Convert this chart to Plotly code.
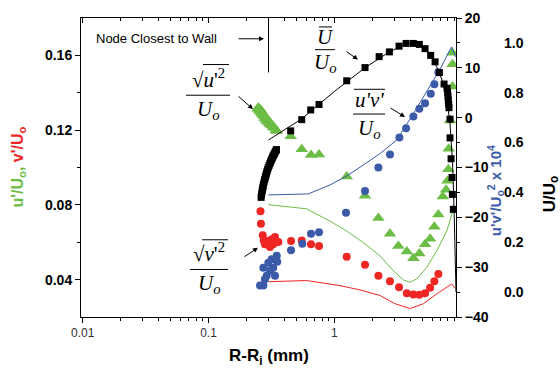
import plotly.graph_objects as go

# ---------------- data ----------------
# Mean velocity U/Uo (squares, right outer axis)
u_sq_x = [0.262, 0.264, 0.266, 0.268, 0.270, 0.272, 0.274, 0.277, 0.280, 0.283, 0.286, 0.289,
          0.292, 0.295, 0.299, 0.303, 0.307, 0.311, 0.315, 0.319, 0.323, 0.327, 0.331, 0.335,
          0.339, 0.343, 0.347,
          0.450, 0.551, 0.649, 0.756, 1.255, 1.754, 2.27, 2.74, 3.27, 3.72, 4.25, 4.74, 5.26,
          5.83, 6.32, 6.84, 7.45, 7.87, 7.95, 8.00, 8.05, 8.10, 8.15, 8.31, 8.31, 8.47, 8.62,
          8.67, 8.83]
u_sq_y = [0.380, 0.390, 0.400, 0.410, 0.418, 0.426, 0.434, 0.443, 0.452, 0.461, 0.469, 0.477,
          0.485, 0.492, 0.500, 0.508, 0.515, 0.522, 0.529, 0.535, 0.541, 0.547, 0.552, 0.557,
          0.562, 0.567, 0.572,
          0.647, 0.692, 0.731, 0.753, 0.848, 0.901, 0.945, 0.964, 0.987, 0.998, 0.998, 0.994, 0.977,
          0.950, 0.924, 0.881, 0.835, 0.818, 0.802, 0.786, 0.770, 0.755, 0.740, 0.694, 0.619, 0.535, 0.460,
          0.392, 0.332]
# CFD U/Uo line
u_cfd_x = [0.299, 0.55, 1.0, 1.75, 2.7, 3.5, 4.2, 5.0, 5.8, 6.5, 7.2, 7.8, 8.3, 8.7, 8.95, 9.15, 9.27]
u_cfd_y = [0.61, 0.695, 0.805, 0.90, 0.962, 0.99, 1.0, 0.985, 0.95, 0.905, 0.85, 0.78, 0.68, 0.52, 0.33, 0.15, 0.0]

# u'/Uo (triangles, left axis)
up_x = [0.245, 0.250, 0.253, 0.256, 0.260, 0.263, 0.266, 0.270, 0.273, 0.277, 0.280, 0.284,
        0.288, 0.292, 0.296, 0.300, 0.305, 0.310, 0.315, 0.320, 0.327, 0.335, 0.343, 0.350,
        0.450, 0.551, 0.653, 0.756, 1.255, 1.754, 2.24, 2.77, 3.23, 3.77, 4.25, 4.74, 5.26,
        5.77, 6.24, 6.71, 7.28, 7.73, 7.93, 8.06, 8.11, 8.30, 8.70, 8.70, 8.67]
up_y = [0.1315, 0.1320, 0.1305, 0.1312, 0.1295, 0.1305, 0.1285, 0.1292, 0.1275, 0.1280, 0.1262, 0.1270,
        0.1252, 0.1258, 0.1243, 0.1247, 0.1233, 0.1238, 0.1225, 0.1228, 0.1215, 0.1212, 0.1200, 0.1195,
        0.1167, 0.1098, 0.1067, 0.1070, 0.0952, 0.0849, 0.0730, 0.0646, 0.0580, 0.0550, 0.0515, 0.0540, 0.0589,
        0.0619, 0.0683, 0.0748, 0.0845, 0.0881, 0.0929, 0.0990, 0.1100, 0.1252, 0.1434, 0.1552, 0.1614]
# CFD u'/Uo line
up_cfd_x = [0.299, 0.603, 0.924, 1.255, 1.70, 2.31, 2.94, 3.54, 4.00, 4.52, 5.43, 6.52, 7.83, 8.58, 8.87]
up_cfd_y = [0.0801, 0.0779, 0.0713, 0.0660, 0.0598, 0.0527, 0.0448, 0.0398, 0.0386, 0.0404, 0.0465, 0.0554, 0.0660, 0.0748, 0.0803]

# v'/Uo (circles, left axis)
vp_x = [0.259, 0.261, 0.270, 0.290, 0.318, 0.344, 0.281, 0.327, 0.359, 0.308, 0.338, 0.275, 0.300,
        0.453, 0.551, 0.653, 0.756, 1.255, 1.754, 2.24, 2.77, 3.27, 3.77, 4.25, 4.74, 5.26,
        5.77, 6.24, 6.71]
vp_y = [0.0766, 0.0699, 0.0637, 0.0607, 0.0616, 0.0607, 0.0589, 0.0589, 0.0601, 0.0575, 0.0628, 0.0610, 0.0595,
        0.0607, 0.0610, 0.0589, 0.0580, 0.0522, 0.0480, 0.0421, 0.0391, 0.0359, 0.0327, 0.0320, 0.0319, 0.0327,
        0.0356, 0.0391, 0.0430]
# CFD v'/Uo line
vp_cfd_x = [0.299, 0.603, 1.11, 1.60, 2.31, 3.04, 4.00, 5.10, 6.52, 8.58, 9.19]
vp_cfd_y = [0.0389, 0.0395, 0.0368, 0.0345, 0.0315, 0.0271, 0.0245, 0.0271, 0.0324, 0.0377, 0.0352]

# u'v'/Uo^2 x 10^4 (circles, right inner axis)
uv_x = [0.349, 0.318, 0.299, 0.352, 0.327, 0.273, 0.308, 0.290, 0.338, 0.281, 0.273, 0.257,
        0.453, 0.557, 0.653, 0.756,
        1.239, 1.754, 2.24, 2.77, 3.29, 3.72, 4.25, 4.74, 5.26, 5.84, 6.24, 6.71]
uv_y = [-27.7, -28.4, -29.1, -28.9, -30.1, -30.1, -30.7, -31.7, -31.7, -32.4, -33.7, -33.7,
        -26.6, -25.3, -23.3, -23.0,
        -19.1, -14.7, -10.0, -7.4, -4.0, -2.1, 0.25, 1.8, 2.9, 4.8, 6.7, 9.1]
# CFD u'v' line
uv_cfd_x = [0.299, 0.621, 0.924, 1.255, 1.70, 2.31, 3.13, 4.25, 5.77, 6.92, 8.06, 8.55, 9.19]
uv_cfd_y = [-15.5, -15.3, -13.5, -11.7, -9.5, -7.2, -4.5, 0.8, 6.4, 9.7, 13.0, 14.2, 12.2]

# ticks
x_major = [0.01, 0.1, 1]
x_major_text = ["0.01", "0.1", "1"]
x_minor = [0.02, 0.03, 0.04, 0.05, 0.06, 0.07, 0.08, 0.09,
           0.2, 0.3, 0.4, 0.5, 0.6, 0.7, 0.8, 0.9,
           2, 3, 4, 5, 6, 7, 8, 9]
y1_major = [0.04, 0.08, 0.12, 0.16]
y1_text = ["0.04", "0.08", "0.12", "0.16"]
y1_minor = [0.06, 0.10, 0.14]
y2_major = [-40, -30, -20, -10, 0, 10, 20]
y2_minor = [-35, -25, -15, -5, 5, 15]
y3_major = [0.0, 0.2, 0.4, 0.6, 0.8, 1.0]
y3_text = ["0.0", "0.2", "0.4", "0.6", "0.8", "1.0"]

# ---------------- layout helpers ----------------
W, H = 560, 369
ML, MR, MT, MB = 81, 10, 15, 52
PW = W - ML - MR
PH = H - MT - MB
def px(x):
    return (x - ML) / PW
def py(y):
    return (H - MB - y) / PH

GREEN = "#6cbd45"
RED = "#ee2724"
BLUE = "#3b5ba9"
SANS = "Liberation Sans, Arial, sans-serif"
SERIF = "Liberation Serif, Times New Roman, serif"

fig = go.Figure()
fig.add_trace(go.Scatter(x=up_cfd_x, y=up_cfd_y, mode="lines", line=dict(color=GREEN, width=1), yaxis="y"))
fig.add_trace(go.Scatter(x=vp_cfd_x, y=vp_cfd_y, mode="lines", line=dict(color=RED, width=1), yaxis="y"))
fig.add_trace(go.Scatter(x=uv_cfd_x, y=uv_cfd_y, mode="lines", line=dict(color=BLUE, width=1), yaxis="y2"))
fig.add_trace(go.Scatter(x=vp_x, y=vp_y, mode="markers",
                         marker=dict(symbol="circle", size=8, color=RED, line=dict(width=0)), yaxis="y"))
fig.add_trace(go.Scatter(x=uv_x, y=uv_y, mode="markers",
                         marker=dict(symbol="circle", size=8, color=BLUE, line=dict(width=0)), yaxis="y2"))
fig.add_trace(go.Scatter(x=up_x, y=up_y, mode="markers",
                         marker=dict(symbol="triangle-up", size=11, color=GREEN, line=dict(width=0)), yaxis="y"))
fig.add_trace(go.Scatter(x=u_cfd_x, y=u_cfd_y, mode="lines", line=dict(color="black", width=1), yaxis="y3"))
fig.add_trace(go.Scatter(x=u_sq_x, y=u_sq_y, mode="markers",
                         marker=dict(symbol="square", size=7, color="black", line=dict(width=0)), yaxis="y3"))
fig.add_trace(go.Scatter(x=[], y=[], xaxis="x2", yaxis="y"))

XDOM = px(456)
xr = [-2.013, 0.967]
fig.update_layout(
    width=W, height=H, margin=dict(l=ML, r=MR, t=MT, b=MB),
    paper_bgcolor="white", plot_bgcolor="white", showlegend=False,
    xaxis=dict(type="log", range=xr, domain=[0, XDOM], showline=True, linecolor="black", linewidth=1,
               mirror=True, ticks="outside", ticklen=5, tickcolor="black",
               tickvals=x_major, ticktext=x_major_text, showgrid=False, zeroline=False,
               minor=dict(tickvals=x_minor, ticks="outside", ticklen=3, tickcolor="black", showgrid=False),
               tickfont=dict(family=SANS, size=12, color="#333")),
    xaxis2=dict(type="log", range=xr, domain=[0, XDOM], overlaying="x", side="top", anchor="y",
                showline=False, ticks="inside", ticklen=5, tickcolor="black", tickvals=x_major,
                showticklabels=False, showgrid=False, zeroline=False,
                minor=dict(tickvals=x_minor, ticks="inside", ticklen=3, tickcolor="black", showgrid=False)),
    yaxis=dict(range=[0.02, 0.18], showline=True, linecolor="black", linewidth=1, ticks="outside",
               ticklen=5, tickcolor="black", tickvals=y1_major, ticktext=y1_text, showgrid=False,
               zeroline=False,
               minor=dict(tickvals=y1_minor, ticks="outside", ticklen=3, tickcolor="black", showgrid=False),
               tickfont=dict(family=SANS, size=14, color="black", weight="bold")),
    yaxis2=dict(range=[-40, 20], overlaying="y", side="right", anchor="x", showline=True, linecolor="black",
                linewidth=1, ticks="outside", ticklen=5, tickcolor="black", tickvals=y2_major,
                showgrid=False, zeroline=False,
                minor=dict(tickvals=y2_minor, ticks="outside", ticklen=3, tickcolor="black", showgrid=False),
                tickfont=dict(family=SANS, size=14, color="black", weight="bold")),
    yaxis3=dict(range=[-0.1, 1.1], overlaying="y", side="right", anchor="free", position=px(503),
                showline=False, ticks="", tickvals=y3_major, ticktext=y3_text, showgrid=False, zeroline=False,
                tickfont=dict(family=SANS, size=14, color="black", weight="bold")),
)

ann = []
def text(x, y, t, size, family=SANS, color="black", angle=0, xanchor="center", weight="normal"):
    ann.append(dict(x=px(x), y=py(y), xref="paper", yref="paper", text=t, showarrow=False,
                    xanchor=xanchor, yanchor="middle", textangle=angle,
                    font=dict(family=family, size=size, color=color, weight=weight)))
def arrow(x0, y0, x1, y1):
    ann.append(dict(x=px(x1), y=py(y1), xref="paper", yref="paper", text="", showarrow=True,
                    ax=x0 - x1, ay=y0 - y1, arrowhead=2, arrowsize=1, arrowwidth=1, arrowcolor="black"))
shapes = []
def hline(x0, x1, y):
    shapes.append(dict(type="line", xref="paper", yref="paper", x0=px(x0), x1=px(x1), y0=py(y), y1=py(y),
                       line=dict(color="black", width=1)))

# axis titles
text(268.5, 357, "<b>R-R<sub>i</sub> (mm)</b>", 17)
text(18, 166, "<b><span style='color:%s'>u'/U<sub>o</sub>,</span> <span style='color:%s'>v'/U<sub>o</sub></span></b>" % (GREEN, RED), 16, angle=-90)
text(495, 190, "<b>u'v'/U<sub>o</sub><sup>2</sup> x 10<sup>4</sup></b>", 15, color=BLUE, angle=-90)
text(551, 193, "<b>U/U<sub>o</sub></b>", 17, angle=-90)

# node annotation
text(94, 36, "Node Closest to Wall", 13, xanchor="left")
arrow(237, 36, 264, 36)
shapes.append(dict(type="line", xref="paper", yref="paper", x0=px(268.5), x1=px(268.5), y0=py(18), y1=py(70),
                   line=dict(color="black", width=1)))

# math labels
# sqrt(u'^2)/Uo
text(208, 76, "√<i>u</i>'<sup>2</sup>", 21, family=SERIF)
hline(203, 229, 62)
hline(186, 230, 93)
text(208, 108, "<i>U<sub>o</sub></i>", 21, family=SERIF)
arrow(237, 93, 253, 107)
# U/Uo
text(325, 34, "<i>U</i>", 21, family=SERIF)
hline(319, 332, 24)
hline(315, 335, 47)
text(325, 60, "<i>U<sub>o</sub></i>", 21, family=SERIF)
arrow(345, 48, 358, 57)
# u'v'/Uo
text(369, 98, "<i>u'v'</i>", 21, family=SERIF)
hline(354, 385, 87)
hline(353, 385, 112)
text(369, 127, "<i>U<sub>o</sub></i>", 21, family=SERIF)
arrow(389, 105, 405, 115)
# sqrt(v'^2)/Uo
text(209, 252, "√<i>v</i>'<sup>2</sup>", 21, family=SERIF)
hline(202, 228, 239)
hline(190, 228, 269)
text(209, 284, "<i>U<sub>o</sub></i>", 21, family=SERIF)
arrow(243, 257, 258, 247)

fig.update_layout(annotations=ann, shapes=shapes)
fig.write_html("out.html")
